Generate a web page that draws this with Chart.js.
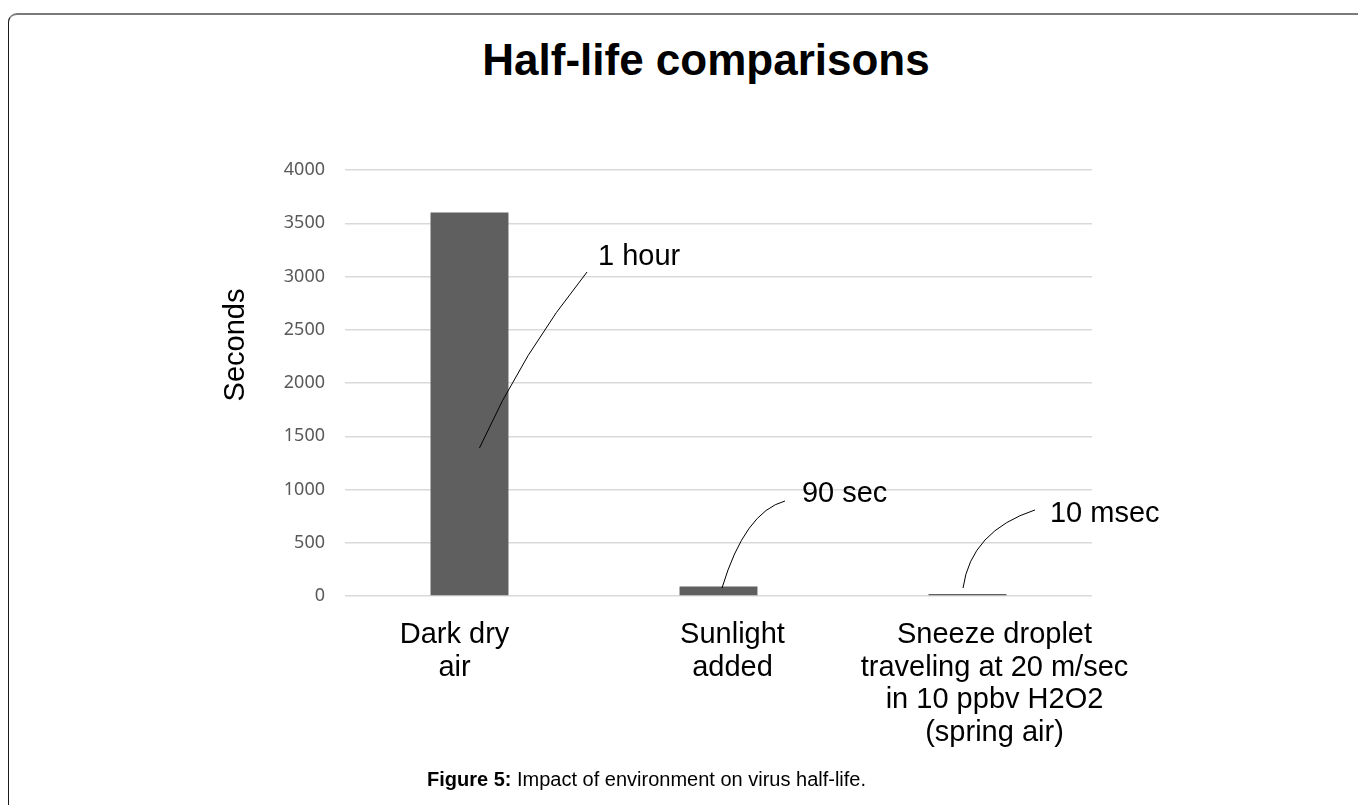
<!DOCTYPE html>
<html>
<head>
<meta charset="utf-8">
<script src="https://cdn.jsdelivr.net/npm/chart.js@4.4.1/dist/chart.umd.min.js"></script>
<style>
  html, body { margin: 0; padding: 0; background: #fff; overflow: hidden; }
  body { width: 1358px; height: 805px; position: relative; font-family: "Liberation Sans", Arial, sans-serif; }
  #frame { position: absolute; left: 8px; top: 13px; width: 2000px; height: 2000px;
           border-top: 2px solid #7b7b7b; border-left: 1px solid #1a1a1a; border-top-left-radius: 9px; box-sizing: border-box; }
  #title { position: absolute; left: 306px; width: 800px; top: 38px; text-align: center;
           font: bold 44px/44px "Liberation Sans", Arial, sans-serif; color: #000; }
  #caption { position: absolute; left: 427px; top: 769px; font: 20px/20px "Liberation Sans", Arial, sans-serif; color: #000; white-space: nowrap; }
  canvas { position: absolute; left: 0; top: 0; }
</style>
</head>
<body>
<div id="frame"></div>
<div id="title">Half-life comparisons</div>
<canvas id="c" width="1358" height="805"></canvas>
<div id="caption"><b>Figure 5:</b> Impact of environment on virus half-life.</div>
<script>
// ---- data ----
const categories = [
  ['Dark dry', 'air'],
  ['Sunlight', 'added'],
  ['Sneeze droplet', 'traveling at 20 m/sec', 'in 10 ppbv H2O2', '(spring air)']
];
const halfLifeSeconds = [3600, 90, 0.01];
const yTickMin = 0;
const yTickMax = 4000;
const yTickStep = 500;
const yAxisTitle = 'Seconds';
const noteLabels = ['1 hour', '90 sec', '10 msec'];

// ---- styling / placement (not data) ----
const labelNudgePx = [-15, 14, 27];   // category label horizontal nudge from bar centre
const labelFont = '29px "Liberation Sans", Arial, sans-serif';
const labelLineStep = 32.5;
const labelTopGap = 23;

// callout geometry in data space (category index, seconds)
const callouts = [
  { text: noteLabels[0], anchor: [0.04, 1390], ctrl: [0.215, 2300], end: [0.472, 3042], label: [0.516, 3108] },
  { text: noteLabels[1], anchor: [1.014, 75],  ctrl: [1.106, 789],  end: [1.267, 892],  label: [1.335, 885] },
  { text: noteLabels[2], anchor: [1.982, 75],  ctrl: [2.014, 610],  end: [2.271, 808],  label: [2.331, 698] }
];

const calloutPlugin = {
  id: 'callouts',
  afterDatasetsDraw(chart) {
    const ctx = chart.ctx, xs = chart.scales.x, ys = chart.scales.y;
    ctx.save();
    ctx.strokeStyle = '#000';
    ctx.lineWidth = 1;
    ctx.lineJoin = 'round';
    ctx.fillStyle = '#000';
    ctx.font = labelFont;
    ctx.textAlign = 'left';
    ctx.textBaseline = 'alphabetic';
    callouts.forEach(c => {
      const p = v => [xs.getPixelForValue(v[0]), ys.getPixelForValue(v[1])];
      const a = p(c.anchor), k = p(c.ctrl), e = p(c.end), l = p(c.label);
      ctx.beginPath();
      ctx.moveTo(a[0], a[1]);
      ctx.quadraticCurveTo(k[0], k[1], e[0], e[1]);
      ctx.stroke();
      ctx.fillText(c.text, l[0], l[1]);
    });

    // category labels under the axis
    ctx.textAlign = 'center';
    ctx.textBaseline = 'middle';
    const top = chart.chartArea.bottom + labelTopGap + labelLineStep / 2;
    chart.data.labels.forEach((lines, i) => {
      const x = xs.getPixelForValue(i) + labelNudgePx[i];
      lines.forEach((line, j) => ctx.fillText(line, x, top + j * labelLineStep));
    });

    // y axis title
    ctx.translate(236, 345);
    ctx.rotate(-Math.PI / 2);
    ctx.fillText(yAxisTitle, 0, 0);
    ctx.restore();
  }
};

new Chart(document.getElementById('c'), {
  type: 'bar',
  data: {
    labels: categories,
    datasets: [{
      data: halfLifeSeconds,
      backgroundColor: '#5f5f5f',
      borderWidth: 0,
      barPercentage: 0.313,
      categoryPercentage: 1,
      minBarLength: 2
    }]
  },
  options: {
    responsive: false,
    animation: false,
    devicePixelRatio: 1,
    layout: { padding: { left: 250, right: 266, top: 170, bottom: 0 } },
    plugins: { legend: { display: false }, tooltip: { enabled: false }, title: { display: false } },
    scales: {
      x: {
        grid: { display: false, drawTicks: false },
        border: { display: false },
        ticks: { display: false },
        afterFit(scale) { scale.height = 209; }
      },
      y: {
        min: yTickMin,
        max: yTickMax,
        grid: { color: '#d9d9d9', lineWidth: 1.5, drawTicks: false },
        border: { display: false },
        ticks: {
          stepSize: yTickStep,
          color: '#595959',
          padding: 20,
          font: { family: '"Noto Sans", sans-serif', size: 18 },
          callback: v => String(v)
        },
        afterFit(scale) { scale.width = 95; }
      }
    }
  },
  plugins: [calloutPlugin]
});
</script>
</body>
</html>
